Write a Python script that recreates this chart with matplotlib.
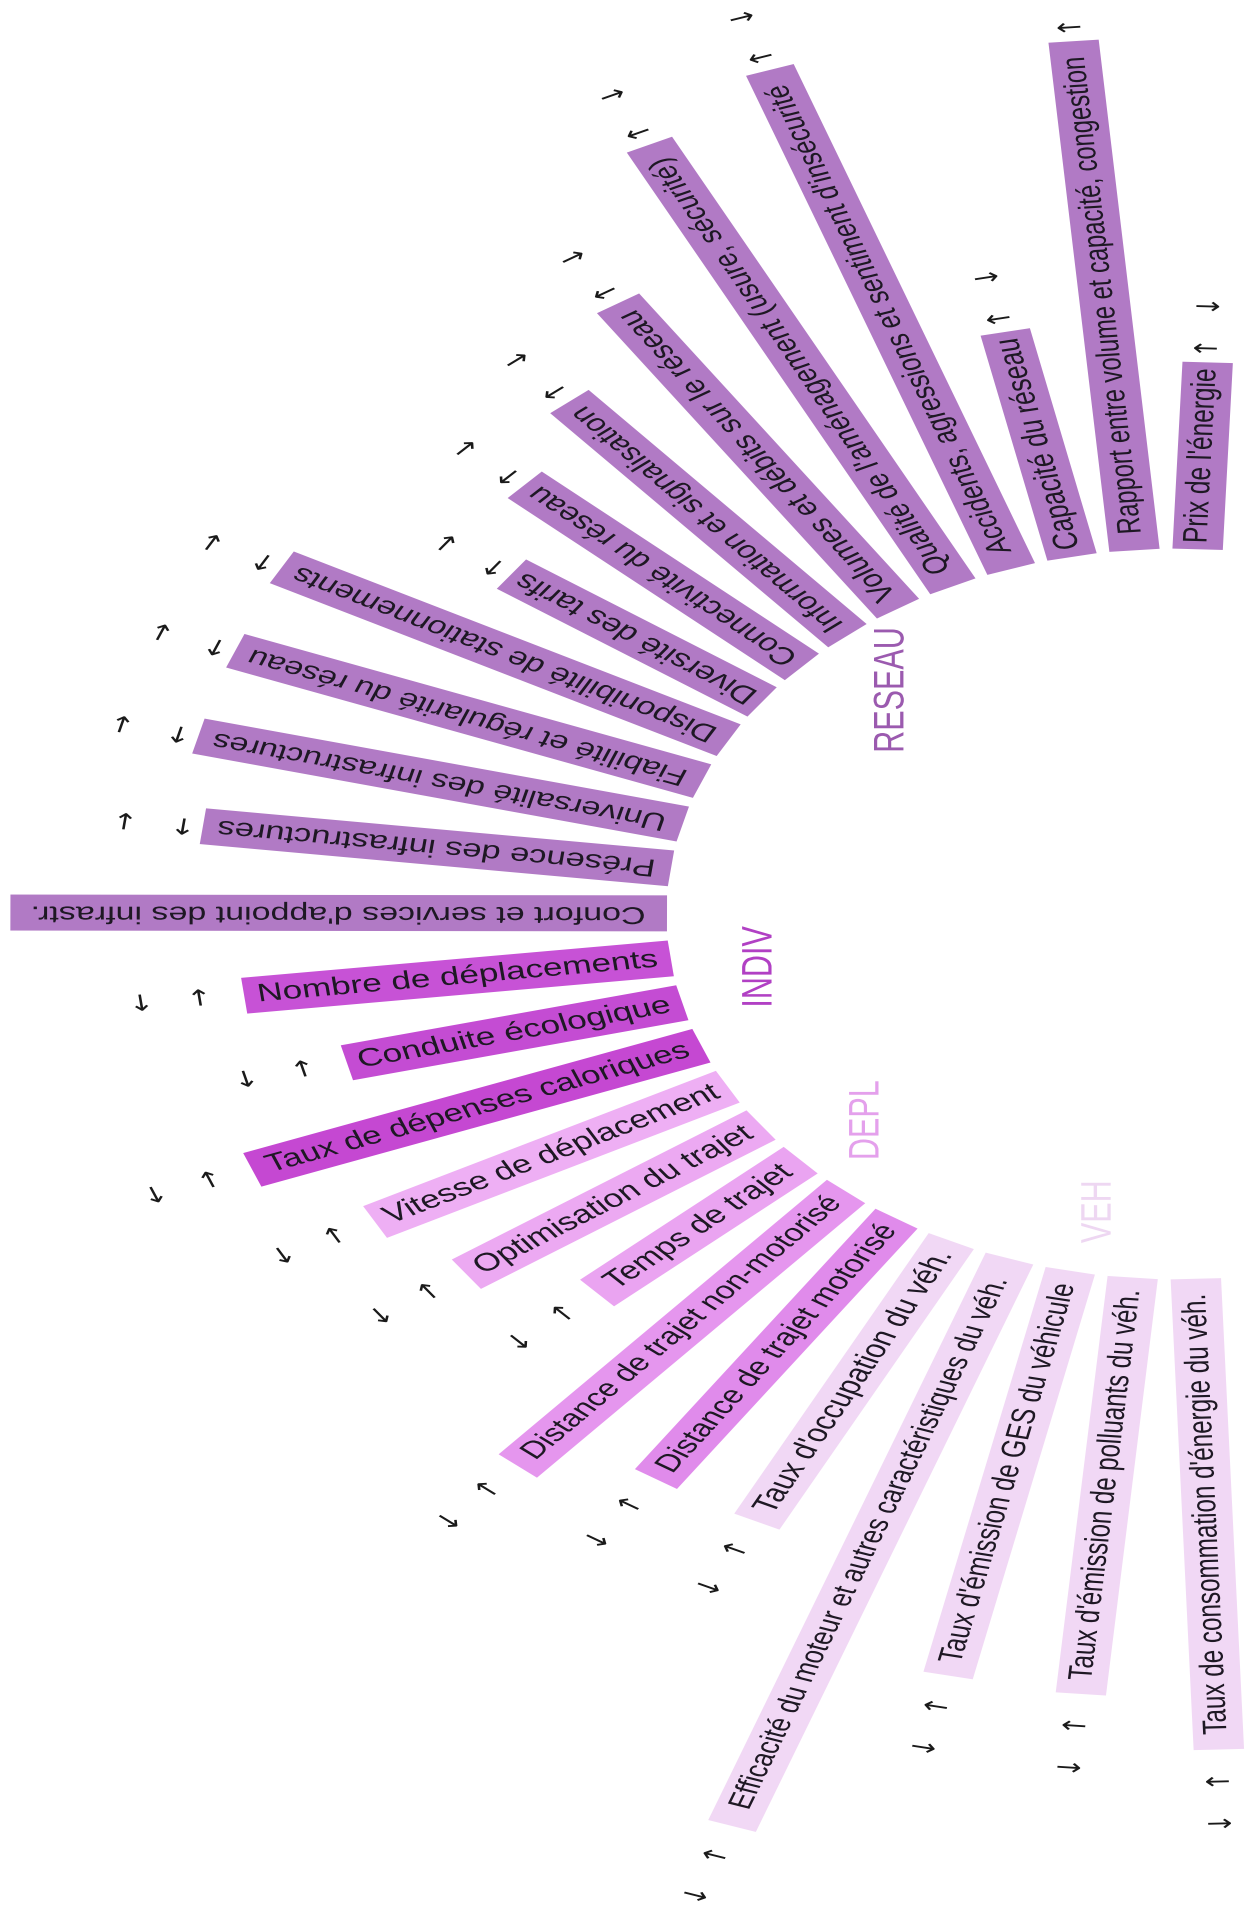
import numpy as np
import matplotlib
matplotlib.use("Agg")
import matplotlib.pyplot as plt
from matplotlib.patches import Rectangle
from matplotlib.font_manager import FontProperties
from matplotlib.patheffects import AbstractPathEffect
from matplotlib.transforms import Affine2D

# ---------------- data ----------------
categories = [
    "Prix de l'énergie",
    "Rapport entre volume et capacité, congestion",
    "Capacité du réseau",
    "Accidents, agressions et sentiment d'insécurité",
    "Qualité de l'aménagement (usure, sécurité)",
    "Volumes et débits sur le réseau",
    "Information et signalisation",
    "Connectivité du réseau",
    "Diversité des tarifs",
    "Disponibilité de stationnements",
    "Fiabilité et régularité du réseau",
    "Universalité des infrastructures",
    "Présence des infrastructures",
    "Confort et services d'appoint des infrastr.",
    "Nombre de déplacements",
    "Conduite écologique",
    "Taux de dépenses caloriques",
    "Vitesse de déplacement",
    "Optimisation du trajet",
    "Temps de trajet",
    "Distance de trajet non-motorisé",
    "Distance de trajet motorisé",
    "Taux d'occupation du véh.",
    "Efficacité du moteur et autres caractéristiques du véh.",
    "Taux d'émission de GES du véhicule",
    "Taux d'émission de polluants du véh.",
    "Taux de consommation d'énergie du véh.",
]
groups = ["RESEAU"] * 14 + ["INDIV"] * 3 + ["DEPL"] * 5 + ["VEH"] * 5
bar_lengths = [187, 511, 230, 528, 492, 365, 307, 269, 220, 363, 358, 357, 337, 469,
               307, 247, 344, 286, 258, 197, 361, 312, 313, 601, 414, 418, 471]
arrow_near = ["↑"] * 27
arrow_far = ["↓"] * 27
group_names = ["RESEAU", "INDIV", "DEPL", "VEH"]

# ---------------- styles ----------------
bar_colors = (["#B17AC5"] * 14
              + ["#C752D6", "#C44CD3", "#C548D2"]
              + ["#EEAFF4", "#ECA9F2", "#EAA4F1", "#E596EE", "#E08BEB"]
              + ["#F1D8F5"] * 5)
group_colors = {"RESEAU": "#9B5AAF", "INDIV": "#B140C4",
                "DEPL": "#E4A0EC", "VEH": "#EED7F2"}
label_angle_offset = {"RESEAU": -1.5, "INDIV": -4, "DEPL": 0.5, "VEH": 1.5}
TEXT_COLOR = "#1E1824"
ARROW_COLOR = "#1A1A1A"
FONT = ["Liberation Sans", "DejaVu Sans"]
ARROW_FONT = ["DejaVu Sans"]

W, H, DPI = 1259, 1906, 100
CX, CY = 1178, 915      # centre of the fan (pixels)
K = 1.4                 # horizontal stretch of the picture
R0 = 365                # inner radius
BAR_W = 36              # bar thickness
LABEL_R = 303
ANGLE_FIRST, ANGLE_LAST = 87.8, 272.0

fig = plt.figure(figsize=(W / DPI, H / DPI), dpi=DPI)
ax = fig.add_axes([0, 0, 1, 1])
ax.set_xlim(-CX / K, (W - CX) / K)
ax.set_ylim(CY - H, CY)
ax.axis("off")
fig.patch.set_facecolor("white")


class HStretch(AbstractPathEffect):
    """Stretch the glyph outlines horizontally around an anchor point."""

    def __init__(self, factor, anchor):
        super().__init__()
        self.factor = factor
        self.anchor = anchor

    def draw_path(self, renderer, gc, tpath, affine, rgbFace=None):
        x0, y0 = self.anchor
        extra = Affine2D().translate(-x0, -y0).scale(self.factor, 1.0).translate(x0, y0)
        renderer.draw_path(gc, tpath, affine + extra, rgbFace)


def stretched_text(xy, s, rot, fs, color, family=FONT, **kw):
    anchor = ax.transData.transform(xy)
    return ax.text(xy[0], xy[1], s, rotation=rot, rotation_mode="anchor",
                   ha="center", va="center", fontsize=fs, color=color,
                   family=family, path_effects=[HStretch(K, anchor)],
                   clip_on=False, **kw)


def inside(xy, margin=4):
    px, py = ax.transData.transform(xy)
    return margin <= px <= W - margin and margin <= py <= H - margin


renderer = fig.canvas.get_renderer()
px_unit = ax.transData.transform((0, 1))[1] - ax.transData.transform((0, 0))[1]
n = len(categories)
angles = np.linspace(ANGLE_FIRST, ANGLE_LAST, n)

for i, (lab, grp, L) in enumerate(zip(categories, groups, bar_lengths)):
    phi = angles[i]
    ax.add_patch(Rectangle((R0, -BAR_W / 2), L, BAR_W, angle=phi,
                           rotation_point=(0, 0), facecolor=bar_colors[i],
                           edgecolor="none", zorder=1))
    rot = phi if grp == "RESEAU" else phi - 180
    u = np.array([np.cos(np.radians(phi)), np.sin(np.radians(phi))])
    fp = FontProperties(family=FONT, size=10)
    w_px, _, _ = renderer.get_text_width_height_descent(lab, fp, ismath=False)
    fs = 10 * 0.94 * L * px_unit / w_px
    fs = min(fs, 0.7 * BAR_W * px_unit * 72 / DPI)
    stretched_text(u * (R0 + L / 2), lab, rot, fs, TEXT_COLOR, zorder=3)
    off_n, off_f = (14, 56) if grp == "RESEAU" else (32, 74)
    for off, glyph in ((off_n, arrow_near[i]), (off_f, arrow_far[i])):
        p = u * (R0 + L + off)
        if inside(p):
            stretched_text(p, glyph, rot, 16, ARROW_COLOR, family=ARROW_FONT, zorder=3)

for g in group_names:
    idx = [i for i, gg in enumerate(groups) if gg == g]
    a = np.radians(np.mean(angles[idx]) + label_angle_offset[g])
    p = LABEL_R * np.array([np.cos(a), np.sin(a)])
    stretched_text(p, g, 90, 22, group_colors[g], zorder=3)

fig.savefig("out.png", dpi=DPI, facecolor="white")
